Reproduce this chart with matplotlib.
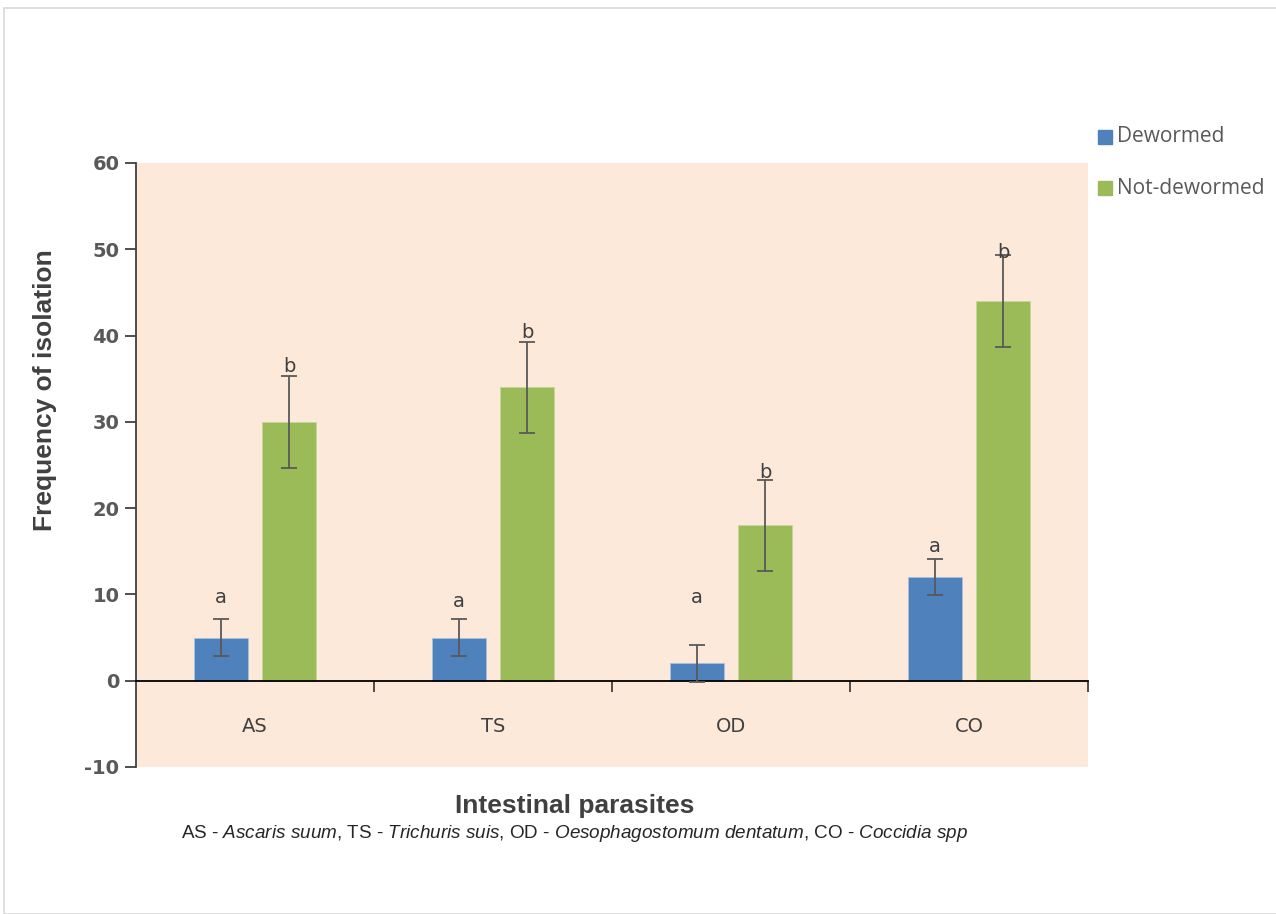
import matplotlib.pyplot as plt
from matplotlib.patches import Rectangle
import numpy as np

categories = ['AS', 'TS', 'OD', 'CO']
dewormed = [5, 5, 2, 12]
not_dewormed = [30, 34, 18, 44]
dewormed_err = [2.1, 2.1, 2.1, 2.1]
not_dewormed_err = [5.3, 5.3, 5.3, 5.3]
letters_a_y = [9.6, 9.2, 9.6, 15.6]
letters_b_y = [36.4, 40.4, 24.1, 49.6]

blue = '#4F81BD'
green = '#9BBB59'
narrow = ['Liberation Sans', 'DejaVu Sans']

plt.rcParams['axes.unicode_minus'] = False
plt.rcParams['mathtext.fontset'] = 'custom'
plt.rcParams['mathtext.rm'] = 'Liberation Sans'
plt.rcParams['mathtext.it'] = 'Liberation Sans:italic'

fig = plt.figure(figsize=(12.76, 9.14), dpi=100)
fig.patches.append(Rectangle((4 / 1276, 0), 1.1, 1 - 8 / 914, transform=fig.transFigure,
                             fill=False, edgecolor='#D9D9D9', linewidth=1.2))

ax = fig.add_axes([136 / 1276, 1 - 767 / 914, 952 / 1276, 604 / 914])
ax.set_facecolor('#FDE9D9')

x = np.arange(len(categories))
w = 0.227
off = 0.143
ax.bar(x - off, dewormed, w, color=blue, edgecolor='#a8c0dc', linewidth=0.6, zorder=2)
ax.bar(x + off, not_dewormed, w, color=green, edgecolor='#c4d69c', linewidth=0.6, zorder=2)
ax.errorbar(x - off, dewormed, yerr=dewormed_err, fmt='none', ecolor='#595959',
            elinewidth=1.3, capsize=6, capthick=1.3, zorder=3)
ax.errorbar(x + off, not_dewormed, yerr=not_dewormed_err, fmt='none', ecolor='#595959',
            elinewidth=1.3, capsize=6, capthick=1.3, zorder=3)

for i in range(len(categories)):
    ax.text(x[i] - off, letters_a_y[i], 'a', ha='center', va='center', fontsize=14,
            color='#404040', zorder=4)
    ax.text(x[i] + off, letters_b_y[i], 'b', ha='center', va='center', fontsize=14,
            color='#404040', zorder=4)

ax.set_xlim(-0.5, len(categories) - 0.5)
ax.set_ylim(-10, 60)
ax.set_yticks(range(-10, 61, 10))
ax.tick_params(axis='y', direction='out', length=8, width=1.3, color='#404040',
               labelsize=14, labelcolor='#595959', pad=4)
for lab in ax.get_yticklabels():
    lab.set_fontweight('bold')

ax.spines['top'].set_visible(False)
ax.spines['right'].set_visible(False)
ax.spines['left'].set_color('#404040')
ax.spines['left'].set_linewidth(1.3)
ax.spines['bottom'].set_position(('data', 0))
ax.spines['bottom'].set_color('#000000')
ax.spines['bottom'].set_linewidth(1.3)

ax.set_xticks(x)
ax.set_xticklabels(categories)
ax.set_xticks(np.arange(0.5, len(categories), 1), minor=True)
ax.tick_params(axis='x', which='major', length=0, pad=26, labelsize=14, labelcolor='#404040')
ax.tick_params(axis='x', which='minor', direction='out', length=8, width=1.3, color='#404040')

fig.text(45 / 1276, 1 - 390 / 914, 'Frequency of isolation', rotation=90, ha='center', va='center',
         fontsize=19, fontweight='bold', color='#404040', family=narrow)
fig.text(575 / 1276, 1 - 806 / 914, 'Intestinal parasites', ha='center', va='center',
         fontsize=19, fontweight='bold', color='#404040', family=narrow)
fig.text(575 / 1276, 1 - 834 / 914,
         r'AS - $\it{Ascaris\ suum}$, TS - $\it{Trichuris\ suis}$, OD - '
         r'$\it{Oesophagostomum\ dentatum}$, CO - $\it{Coccidia\ spp}$',
         ha='center', va='center', fontsize=13.6, color='#262626', family=narrow)

# legend drawn by hand on the right
for yy, col, name in [(137, blue, 'Dewormed'), (188, green, 'Not-dewormed')]:
    fig.patches.append(Rectangle((1098 / 1276, 1 - (yy + 7) / 914), 14 / 1276, 14 / 914,
                                 transform=fig.transFigure, color=col))
    fig.text(1117 / 1276, 1 - yy / 914, name, ha='left', va='center', fontsize=15,
             color='#595959', family=['Open Sans', 'DejaVu Sans'])

fig.savefig('out.png', dpi=100)
